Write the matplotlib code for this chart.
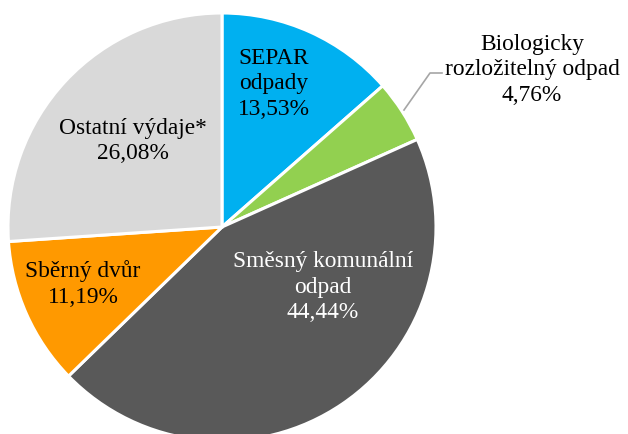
import matplotlib.pyplot as plt

categories = ['SEPAR\nodpady', 'Biologicky\nrozložitelný odpad', 'Směsný komunální\nodpad',
              'Sběrný dvůr', 'Ostatní výdaje*']
shares = [13.53, 4.76, 44.44, 11.19, 26.08]
colors = ['#00B0F0', '#92D050', '#595959', '#FF9900', '#D9D9D9']
text_colors = ['black', 'black', 'white', 'black', 'black']
# label centres in pixel coords (from top-left)
label_pos = [(274, 84), (532, 70), (323, 287), (83, 284), (133, 141)]

W, H = 628, 434
fig = plt.figure(figsize=(W / 100, H / 100), dpi=100)
ax = fig.add_axes([0, 0, 1, 1])
ax.set_xlim(0, W)
ax.set_ylim(0, H)
ax.set_aspect('equal')
ax.axis('off')

ax.pie(shares, colors=colors, startangle=90, counterclock=False,
       center=(222, H - 227), radius=214,
       wedgeprops=dict(edgecolor='white', linewidth=2.2))
ax.set_xlim(0, W)
ax.set_ylim(0, H)

for cat, val, (x, y), tc in zip(categories, shares, label_pos, text_colors):
    txt = f"{cat}\n{val:.2f}%".replace('.', ',')
    ax.text(x, H - y, txt, ha='center', va='center', color=tc,
            fontsize=16.8, family='Liberation Serif', linespacing=1.3)

# leader line for the small slice
ax.plot([404, 430, 442], [H - 110, H - 73, H - 73], color='#A6A6A6', lw=1.2)

fig.savefig('out.png', dpi=100)
